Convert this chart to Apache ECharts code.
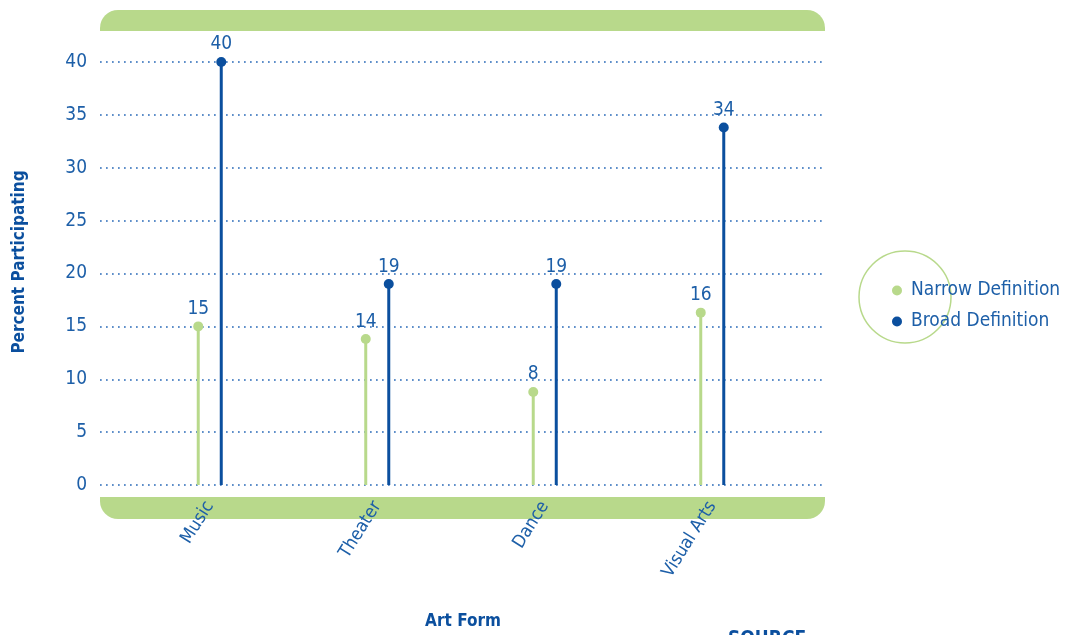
<!DOCTYPE html>
<html>
<head>
<meta charset="utf-8">
<script src="https://cdn.jsdelivr.net/npm/echarts@6/dist/echarts.min.js"></script>
<style>
html,body{margin:0;padding:0;background:#fff;}
#chart{width:1066px;height:635px;}
</style>
</head>
<body>
<div id="chart"></div>
<script>
var categories = ['Music', 'Theater', 'Dance', 'Visual Arts'];
var narrowValues = [15, 13.8, 8.8, 16.3];
var broadValues = [40, 19, 19, 33.8];
var narrowLabels = ['15', '14', '8', '16'];
var broadLabels = ['40', '19', '19', '34'];
var yTicks = [0, 5, 10, 15, 20, 25, 30, 35, 40];

var FONT = "'DejaVu Sans Condensed', 'Roboto', sans-serif";
var BLUE = '#0b4f9e';
var TEXT = '#1d5fa8';
var GREEN = '#b8d98b';
var OFF = 11.5;

var chart = echarts.init(document.getElementById('chart'));
chart.setOption({
  animation: false,
  backgroundColor: '#ffffff',
  textStyle: { fontFamily: FONT },
  grid: [
    { left: 100, right: 241, top: 62, bottom: 150 },
    { left: 126, width: 670, top: 62, bottom: 150 }
  ],
  xAxis: [
    { gridIndex: 0, type: 'value', show: false, min: 0, max: 1 },
    {
      gridIndex: 1, type: 'category', data: categories,
      axisLine: { show: false }, axisTick: { show: false },
      axisLabel: { rotate: 58, margin: 18, color: TEXT, fontSize: 18, fontFamily: FONT }
    }
  ],
  yAxis: [
    {
      gridIndex: 0, type: 'value', min: yTicks[0], max: yTicks[yTicks.length - 1], interval: 5,
      axisLine: { show: false }, axisTick: { show: false },
      axisLabel: { color: TEXT, fontSize: 19, margin: 13, fontFamily: FONT },
      splitLine: { show: true, showMinLine: true, showMaxLine: true, lineStyle: { color: '#2a6ab8', width: 1.7, type: [1.7, 4.3] } }
    },
    { gridIndex: 1, type: 'value', min: 0, max: 40, show: false, splitLine: { show: false } }
  ],
  legend: {
    orient: 'vertical', left: 887, top: 276, itemGap: 12,
    itemWidth: 10, itemHeight: 10, icon: 'circle',
    textStyle: { color: TEXT, fontSize: 19, fontFamily: FONT, padding: [0, 0, 0, 4] },
    data: [
      { name: 'Narrow Definition', itemStyle: { color: GREEN } },
      { name: 'Broad Definition', itemStyle: { color: BLUE } }
    ]
  },
  series: [
    {
      name: 'Narrow Definition', type: 'bar', xAxisIndex: 1, yAxisIndex: 1,
      data: narrowValues, barWidth: 3, barGap: '667%', itemStyle: { color: GREEN }
    },
    {
      name: 'Broad Definition', type: 'bar', xAxisIndex: 1, yAxisIndex: 1,
      data: broadValues, barWidth: 3, barGap: '667%', itemStyle: { color: BLUE }
    },
    {
      name: 'Narrow Definition', type: 'scatter', xAxisIndex: 1, yAxisIndex: 1,
      data: narrowValues, symbolSize: 10, symbolOffset: [-OFF, 0],
      itemStyle: { color: GREEN, opacity: 1 },
      label: { show: true, position: 'top', distance: 3, color: TEXT, fontSize: 19, fontFamily: FONT,
        formatter: function (p) { return narrowLabels[p.dataIndex]; } }
    },
    {
      name: 'Broad Definition', type: 'scatter', xAxisIndex: 1, yAxisIndex: 1,
      data: broadValues, symbolSize: 10, symbolOffset: [OFF, 0],
      itemStyle: { color: BLUE, opacity: 1 },
      label: { show: true, position: 'top', distance: 3, color: TEXT, fontSize: 19, fontFamily: FONT,
        formatter: function (p) { return broadLabels[p.dataIndex]; } }
    }
  ],
  graphic: [
    { type: 'rect', z: -1, shape: { x: 100, y: 10, width: 725, height: 21, r: [18, 18, 0, 0] }, style: { fill: GREEN } },
    { type: 'rect', z: -1, shape: { x: 100, y: 497, width: 725, height: 22, r: [0, 0, 18, 18] }, style: { fill: GREEN } },
    { type: 'circle', shape: { cx: 905, cy: 297, r: 46 }, style: { fill: 'none', stroke: GREEN, lineWidth: 1.5 } },
    { type: 'text', x: 20, y: 262, rotation: Math.PI / 2, style: { text: 'Percent Participating', fill: BLUE, font: "bold 17px " + FONT, textAlign: 'center', textVerticalAlign: 'middle' } },
    { type: 'text', x: 463, y: 622, style: { text: 'Art Form', fill: BLUE, font: "bold 17px " + FONT, textAlign: 'center', textVerticalAlign: 'middle' } },
    { type: 'text', x: 728, y: 630, style: { text: 'SOURCE', fill: BLUE, font: "bold 19px " + FONT, textAlign: 'left', textVerticalAlign: 'top' } }
  ]
});
</script>
</body>
</html>
